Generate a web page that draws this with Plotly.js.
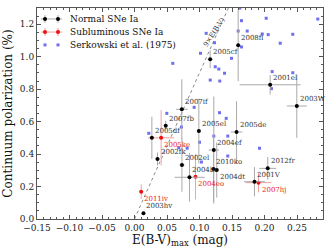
<!DOCTYPE html>
<html>
<head>
<meta charset="utf-8">
<script src="https://cdn.plot.ly/plotly-3.0.1.min.js"></script>
<style>html,body{margin:0;padding:0;background:#fff;}#chart{width:334px;height:251px;}</style>
</head>
<body>
<div id="chart"></div>
<script>
// Normal SNe Ia
const normNames = ["2003hv","2002fk","2005df","2007fb","2007if","2002el","2005cf","2008fl","2001el","2003W","2005el","2005de","2004ef","2010ko","2004dt","2004br","2012fr","2001V"];
const normE     = [0.0138, 0.0354, 0.0267, 0.048, 0.0728, 0.073, 0.1164, 0.1595, 0.2087, 0.2497, 0.099, 0.157, 0.122, 0.1215, 0.1265, 0.0846, 0.205, 0.1846];
const normP     = [0.035, 0.37, 0.50, 0.575, 0.676, 0.333, 0.984, 1.07, 0.827, 0.696, 0.542, 0.536, 0.425, 0.308, 0.302, 0.257, 0.312, 0.23];
const normXerr  = [0.0, 0.003, 0.003, 0.003, 0.009, 0.004, 0.004, 0.003, 0.047, 0.0154, 0.003, 0.009, 0.008, 0.004, 0.003, 0.023, 0.013, 0.016];
const normYerr  = [0.0, 0.04, 0.13, 0.03, 0.185, 0.165, 0.055, 0.22, 0.06, 0.196, 0.2, 0.19, 0.33, 0.2, 0.17, 0.15, 0.07, 0.09];

// Subluminous SNe Ia
const subNames = ["2011iv","2005ke","2004eo","2007hj"];
const subE     = [0.0103, 0.041, 0.0938, 0.1908];
const subP     = [0.168, 0.50, 0.26, 0.224];
const subXerr  = [0.003, 0.02, 0.003, 0.02];
const subYerr  = [0.045, 0.17, 0.14, 0.06];

// Serkowski et al. (1975)
const serkE = [0.2026,0.282,0.1646,0.1595,0.1734,0.1103,0.1965,0.2057,0.2435,0.1231,0.2242,0.1646,0.1015,0.0589,0.1492,0.1242,0.1297,0.1385,0.2118,0.2435,0.1165,0.1312,0.2108,0.1308,0.1411,0.0918,0.0497,0.0723,0.122,0.1435,0.100,0.081,0.068,0.1923,0.1435,0.103,0.022,0.162];
const serkP = [1.237,1.232,1.222,1.158,1.158,1.144,1.140,1.136,1.138,1.086,1.083,1.060,1.021,0.959,0.990,0.938,0.924,0.898,0.908,0.901,0.856,0.850,0.803,0.655,0.620,0.688,0.651,0.567,0.511,0.511,0.473,0.436,0.439,0.436,0.388,0.351,0.528,1.30];

// Reference relation 9 x E(B-V)
const slope = 9;
const lineE = [0.0, 0.16];
const lineP = lineE.map(e => slope * e);

// Legend entries
const legendLabels = ["Normal SNe Ia", "Subluminous SNe Ia", "Serkowski et al. (1975)"];

const FONT = "DejaVu Serif";
const C_NORM = '#000', C_NORM_ERR = '#aaaaaa';
const C_SUB = '#ee1111', C_SUB_ERR = '#f2a0a0';
const C_SERK = '#7070ee';

const traces = [
  {x: lineE, y: lineP, mode: 'lines', line: {color: '#888', width: 1, dash: 'dot'}, showlegend: false, hoverinfo: 'skip'},
  {x: serkE, y: serkP, mode: 'markers', name: legendLabels[2], showlegend: false,
   marker: {symbol: 'square', size: 3, color: C_SERK}},
  {x: subE, y: subP, mode: 'markers', name: legendLabels[1], showlegend: false,
   marker: {symbol: 'circle', size: 4, color: C_SUB},
   error_x: {type: 'data', array: subXerr, color: C_SUB_ERR, thickness: 1, width: 0},
   error_y: {type: 'data', array: subYerr, color: C_SUB_ERR, thickness: 1, width: 0}},
  {x: normE, y: normP, mode: 'markers', name: legendLabels[0], showlegend: false,
   marker: {symbol: 'circle', size: 4, color: C_NORM},
   error_x: {type: 'data', array: normXerr, color: C_NORM_ERR, thickness: 1, width: 0},
   error_y: {type: 'data', array: normYerr, color: C_NORM_ERR, thickness: 1, width: 0}}
];

// label placement (layout only)
const below = {"2004dt": true};

const annotations = [];
normNames.forEach((n, i) => {
  const b = !!below[n];
  annotations.push({x: normE[i], y: normP[i], xref: 'x', yref: 'y', text: n, showarrow: false,
    xanchor: 'left', yanchor: b ? 'top' : 'bottom', xshift: 1, yshift: b ? -1 : 1,
    font: {family: FONT, size: 7, color: '#333'}});
});
subNames.forEach((n, i) => {
  annotations.push({x: subE[i], y: subP[i], xref: 'x', yref: 'y', text: n, showarrow: false,
    xanchor: 'left', yanchor: 'top', xshift: 1, yshift: -1,
    font: {family: FONT, size: 7, color: '#ee2222'}});
});
const labP = 1.15;
annotations.push({x: labP / slope, y: labP, xref: 'x', yref: 'y', text: '9×E(B-V)', showarrow: false,
  textangle: -57, xshift: -3, font: {family: FONT, size: 7, color: '#333'}});

// Custom legend (matplotlib-style: two markers with error bars), in paper coordinates
const shapes = [];
const legRowY = [0.948, 0.886, 0.825];
const legMarkX = [0.028, 0.0734];
const legStyles = [
  {c: C_NORM, e: C_NORM_ERR, bars: true, sym: 'circle'},
  {c: C_SUB, e: C_SUB_ERR, bars: true, sym: 'circle'},
  {c: C_SERK, e: null, bars: false, sym: 'rect'}
];
legStyles.forEach((s, r) => {
  const y = legRowY[r];
  if (s.bars) {
    shapes.push({type: 'line', xref: 'paper', yref: 'paper', x0: 0.014, x1: 0.088, y0: y, y1: y,
      line: {color: s.e, width: 1}});
    legMarkX.forEach(x => shapes.push({type: 'line', xref: 'paper', yref: 'paper', ysizemode: 'pixel',
      yanchor: y, x0: x, x1: x, y0: -4, y1: 4, line: {color: s.e, width: 1}}));
  }
  const h = s.bars ? 2 : 1.5;
  legMarkX.forEach(x => shapes.push({type: s.sym, xref: 'paper', yref: 'paper',
    xsizemode: 'pixel', ysizemode: 'pixel', xanchor: x, yanchor: y,
    x0: -h, x1: h, y0: -h, y1: h, fillcolor: s.c, line: {color: s.c, width: 0}}));
  annotations.push({x: 0.108, y: y, xref: 'paper', yref: 'paper', text: legendLabels[r], showarrow: false,
    xanchor: 'left', yanchor: 'middle', font: {family: FONT, size: 9, color: '#111'}});
});

const axisCommon = {
  showline: true, linecolor: '#555', linewidth: 1, mirror: 'allticks',
  ticks: 'inside', ticklen: 4, tickcolor: '#555', showgrid: false, zeroline: false,
  tickfont: {family: FONT, size: 9, color: '#222'}
};

const layout = {
  width: 334, height: 251,
  margin: {l: 37, r: 11, t: 8, b: 32},
  paper_bgcolor: '#fff', plot_bgcolor: '#fff',
  font: {family: FONT},
  xaxis: Object.assign({}, axisCommon, {
    range: [-0.15, 0.29], tick0: -0.15, dtick: 0.05, tickformat: '.2f',
    minor: {dtick: 0.01, ticks: 'inside', ticklen: 2, tickcolor: '#555'},
    title: {text: 'E(B-V)<sub>max</sub> (mag)', font: {family: FONT, size: 12, color: '#111'}, standoff: 3}
  }),
  yaxis: Object.assign({}, axisCommon, {
    range: [0, 1.30], tick0: 0, dtick: 0.2, tickformat: '.1f',
    minor: {dtick: 0.05, ticks: 'inside', ticklen: 2, tickcolor: '#555'},
    title: {text: 'Continuum polarization (%)', font: {family: FONT, size: 12, color: '#111'}, standoff: 4}
  }),
  annotations: annotations,
  shapes: shapes,
  showlegend: false
};

Plotly.newPlot('chart', traces, layout, {staticPlot: true, displayModeBar: false});
</script>
</body>
</html>
